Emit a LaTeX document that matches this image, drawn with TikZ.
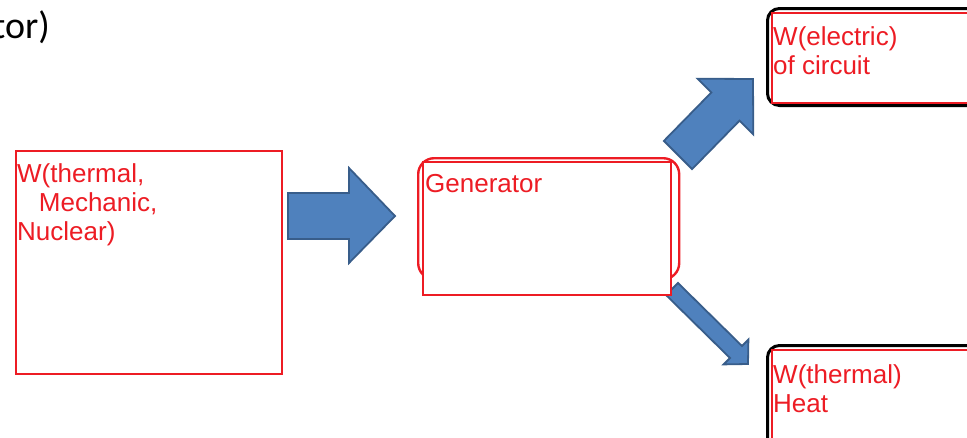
\documentclass[tikz,border=0pt]{standalone}
\usepackage{fontspec}
\setmainfont{Liberation Sans}
\newfontfamily\calibri{Carlito}
\usetikzlibrary{positioning,calc}
\definecolor{boxred}{RGB}{237,28,36}
\definecolor{arrowblue}{RGB}{79,129,189}
\definecolor{arrowedge}{RGB}{56,93,138}

\begin{document}
\begin{tikzpicture}
  [x=1pt, y=-1pt,
   box/.style={rectangle, draw=boxred, line width=2.4pt, fill=white, inner sep=0pt, anchor=north west},
   frame/.style={rectangle, draw=black, line width=3pt, rounded corners=12pt, inner sep=0pt, anchor=north west},
   red text/.style={text=boxred, font=\fontsize{26}{29}\selectfont, align=left, inner sep=0pt, anchor=north west},
   block/.style={fill=arrowblue, draw=arrowedge, line width=1.8pt},
  ]
  \useasboundingbox (0,0) rectangle (967,437);

  % title, cut off at the left edge
  \node (title) [anchor=base east, inner sep=0pt, font=\calibri\fontsize{38}{44}\selectfont] at (50,38) {tor)};

  % block arrows
  \draw [block] (288,193) -- (349,193) -- (349,168) -- (395,216) -- (349,263) -- (349,239) -- (288,239) -- cycle;
  \draw [block] (663.9,140.9) -- (711.3,92.5) -- (697.5,78.7) -- (753,79) -- (753.3,134.5) -- (739.5,120.7) -- (692.1,169.1) -- cycle;
  \draw [block] (678,283) -- (742,346) -- (748.4,339.6) -- (748,364) -- (723.6,364.4) -- (730,358) -- (666,295) -- cycle;

  % source
  \node (src) [box, minimum width=266pt, minimum height=223pt] at (15,150) {};
  \node (srctext) [red text] at ([shift={(2,13)}]src.north west) {W(thermal,\\\hspace*{21.7pt}Mechanic,\\Nuclear)};

  % generator
  \node (genframe) [rectangle, draw=boxred, line width=2.4pt, rounded corners=16pt, anchor=north west,
    minimum width=261pt, minimum height=121pt] at (417,157) {};
  \node (gen) [box, minimum width=248pt, minimum height=133pt] at (422,161) {};
  \node (gentext) [red text] at ([shift={(3,13)}]gen.north west) {Generator};

  % electric output
  \node (elframe) [frame, minimum width=240pt, minimum height=97pt] at (766,7) {};
  \node (el) [box, minimum width=240pt, minimum height=90pt] at (771,12) {};
  \node (eltext) [red text] at ([shift={(2,14)}]el.north west) {W(electric)\\of circuit};

  % heat output
  \node (heatframe) [frame, minimum width=240pt, minimum height=130pt] at (766,344) {};
  \node (heat) [box, minimum width=240pt, minimum height=130pt] at (771,349) {};
  \node (heattext) [red text] at ([shift={(2,15)}]heat.north west) {W(thermal)\\Heat};
\end{tikzpicture}
\end{document}
